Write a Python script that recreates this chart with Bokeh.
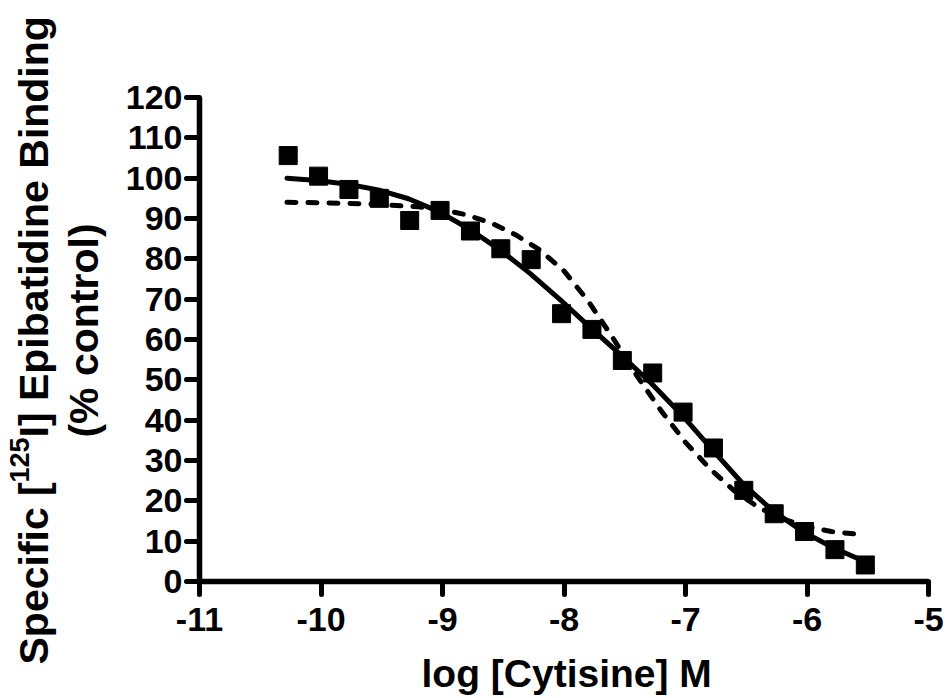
import math
from bokeh.plotting import figure
from bokeh.models import Range1d, FixedTicker
from bokeh.layouts import row, column
from bokeh.core.properties import value
from bokeh.embed import file_html
from bokeh.resources import INLINE

# ---- data ----
log_conc = [-10.27, -10.02, -9.77, -9.52, -9.27, -9.02, -8.77, -8.52, -8.27, -8.02,
            -7.77, -7.52, -7.27, -7.02, -6.77, -6.52, -6.27, -6.02, -5.77, -5.52]
binding = [105.6, 100.5, 97.2, 95.0, 89.5, 92.0, 86.9, 82.5, 79.8, 66.4,
           62.5, 54.8, 51.7, 42.0, 33.1, 22.6, 16.8, 12.4, 7.9, 4.1]

# solid fitted curve
fit_x = [-10.28, -10.03, -9.78, -9.53, -9.28, -9.03, -8.78, -8.53, -8.28, -8.03,
         -7.78, -7.53, -7.28, -7.03, -6.78, -6.53, -6.28, -6.03, -5.78, -5.53]
fit_y = [100.0, 99.4, 98.5, 97.1, 94.9, 91.7, 87.4, 82.3, 76.4, 69.8,
         62.9, 56.1, 49.1, 41.3, 32.7, 24.3, 17.5, 12.3, 8.3, 5.0]

# dashed curve
alt_x = [-10.28, -10.0, -9.6, -9.2, -9.0, -8.8, -8.6, -8.4, -8.2, -8.0,
         -7.8, -7.6, -7.4, -7.2, -7.0, -6.8, -6.6, -6.4, -6.2, -6.0, -5.8, -5.58]
alt_y = [94.0, 93.9, 93.6, 92.9, 92.2, 90.9, 88.9, 86.0, 82.2, 77.0,
         69.5, 60.5, 51.0, 42.3, 34.5, 28.0, 22.5, 18.4, 15.5, 13.6, 12.4, 11.7]

x_ticks = [-11, -10, -9, -8, -7, -6, -5]
x_tick_labels = ["-11", "-10", "-9", "-8", "-7", "-6", "-5"]
y_ticks = [0, 10, 20, 30, 40, 50, 60, 70, 80, 90, 100, 110, 120]
y_tick_labels = [str(v) for v in y_ticks]

x_title = "log [Cytisine] M"
y_title_a = "Specific ["
y_title_sup = "125"
y_title_b = "I] Epibatidine Binding"
y_title_2 = "(% control)"

FONT = "Liberation Sans"


def bare(w, h):
    f = figure(width=w, height=h, output_backend="svg", toolbar_location=None,
               x_range=Range1d(0, w), y_range=Range1d(0, h), min_border=0,
               x_axis_type=None, y_axis_type=None)
    f.outline_line_color = None
    f.grid.visible = False
    return f


# ---- main plot ----
p = figure(width=826, height=650, output_backend="svg", toolbar_location=None,
           x_range=Range1d(-11, -5), y_range=Range1d(0, 120),
           min_border_left=79, min_border_right=18, min_border_top=97, min_border_bottom=69)
p.outline_line_color = None
p.grid.visible = False

for ax in (p.xaxis[0], p.yaxis[0]):
    ax.axis_line_width = 5.5
    ax.axis_line_color = "black"
    ax.major_tick_line_width = 5
    ax.major_tick_line_color = "black"
    ax.major_tick_line_cap = "round"
    ax.major_tick_in = 0
    ax.major_tick_out = 13
    ax.minor_tick_line_color = None
    ax.major_label_text_font = FONT
    ax.major_label_text_font_style = "bold"
    ax.major_label_text_font_size = "34px"
    ax.major_label_text_color = "black"

p.xaxis.ticker = FixedTicker(ticks=x_ticks)
p.xaxis.major_label_overrides = {t: l for t, l in zip(x_ticks, x_tick_labels)}
p.xaxis.major_label_standoff = 13
p.yaxis.ticker = FixedTicker(ticks=y_ticks)
p.yaxis.major_label_overrides = {t: l for t, l in zip(y_ticks, y_tick_labels)}
p.yaxis.major_label_standoff = 4

p.line(fit_x, fit_y, line_color="black", line_width=5, line_cap="round", line_join="round")
p.line(alt_x, alt_y, line_color="black", line_width=5, line_dash="9 12", line_cap="round",
       line_join="round")
p.scatter(log_conc, binding, marker="square", size=18, fill_color="black", line_color="black")

# ---- y title panel (pixel coordinates, y up) ----
yt = bare(120, 696)
ang = math.pi / 2
common = dict(angle=ang, text_font=value(FONT), text_font_style="bold", text_color="black",
              text_baseline="alphabetic")
yt.text(x=[33], y=[32], text=[y_title_a], text_font_size="41px", text_align="left", **common)
yt.text(x=[19], y=[214], text=[y_title_sup], text_font_size="27px", text_align="left", **common)
yt.text(x=[33], y=[259], text=[y_title_b], text_font_size="41px", text_align="left", **common)
yt.text(x=[83], y=[366], text=[y_title_2], text_font_size="41px", text_align="center", **common)

# ---- x title panel ----
xt = bare(826, 46)
xt.text(x=[416], y=[23], text=[x_title], text_font=value(FONT), text_font_style="bold",
        text_font_size="39px", text_align="center", text_baseline="alphabetic", text_color="black")

layout = row(yt, column(p, xt))
open("out.html", "w").write(file_html(layout, INLINE))
